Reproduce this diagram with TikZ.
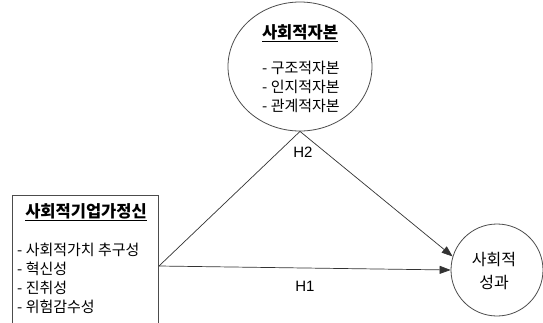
\documentclass[tikz,border=0pt]{standalone}
\usepackage{fontspec}
\setmainfont{Noto Sans CJK KR}
\newfontfamily\latinfont{Liberation Sans}
\usetikzlibrary{arrows.meta,shapes.geometric}
\begin{document}
\begin{tikzpicture}[x=1pt,y=-1pt,
  shapeline/.style={draw=black!70,line width=0.8pt},
  conn/.style={draw=black!80,line width=0.7pt},
  arr/.style={conn,-{Triangle[length=11pt,width=8pt]}},
  ttl/.style={font=\fontsize{16.5}{18}\selectfont\bfseries,inner sep=0pt},
  itm/.style={font=\fontsize{15}{19}\selectfont,inner sep=0pt,align=left},
  hlab/.style={font=\latinfont\fontsize{15}{17}\selectfont,inner sep=0pt}]
\useasboundingbox (0,0) rectangle (543,322);
\clip (0,0) rectangle (543,322);
\fill[white] (0,0) rectangle (543,322);
% ellipse
\node[shapeline,ellipse,minimum width=144pt,minimum height=129pt,inner sep=0pt] (e) at (300,66.5) {};
\node[ttl] (et) at (300,33) {\underline{사회적자본}};
\node[itm,anchor=west] (ei) at (262,87) {- 구조적자본\\- 인지적자본\\- 관계적자본};
% box
\node[shapeline,rectangle,minimum width=146pt,minimum height=140pt,inner sep=0pt] (b) at (85,265) {};
\node[ttl] (bt) at (86,212) {\underline{사회적기업가정신}};
\node[itm,anchor=west] (bi) at (17,278.5) {- 사회적가치 추구성\\- 혁신성\\- 진취성\\- 위험감수성};
% circle
\node[shapeline,circle,minimum size=92pt,inner sep=0pt] (c) at (497,270) {};
\node[itm,align=center,font=\fontsize{16}{23}\selectfont] (ct) at (494,271) {사회적\\성과};
% connectors
\coordinate (s) at (159,266);
\draw[arr] (s) -- (e.south) -- (c.163);
\draw[arr] (s) -- (c.west);
\node[hlab] (h2) at (303,152) {H2};
\node[hlab] (h1) at (305,286) {H1};
\end{tikzpicture}
\end{document}
